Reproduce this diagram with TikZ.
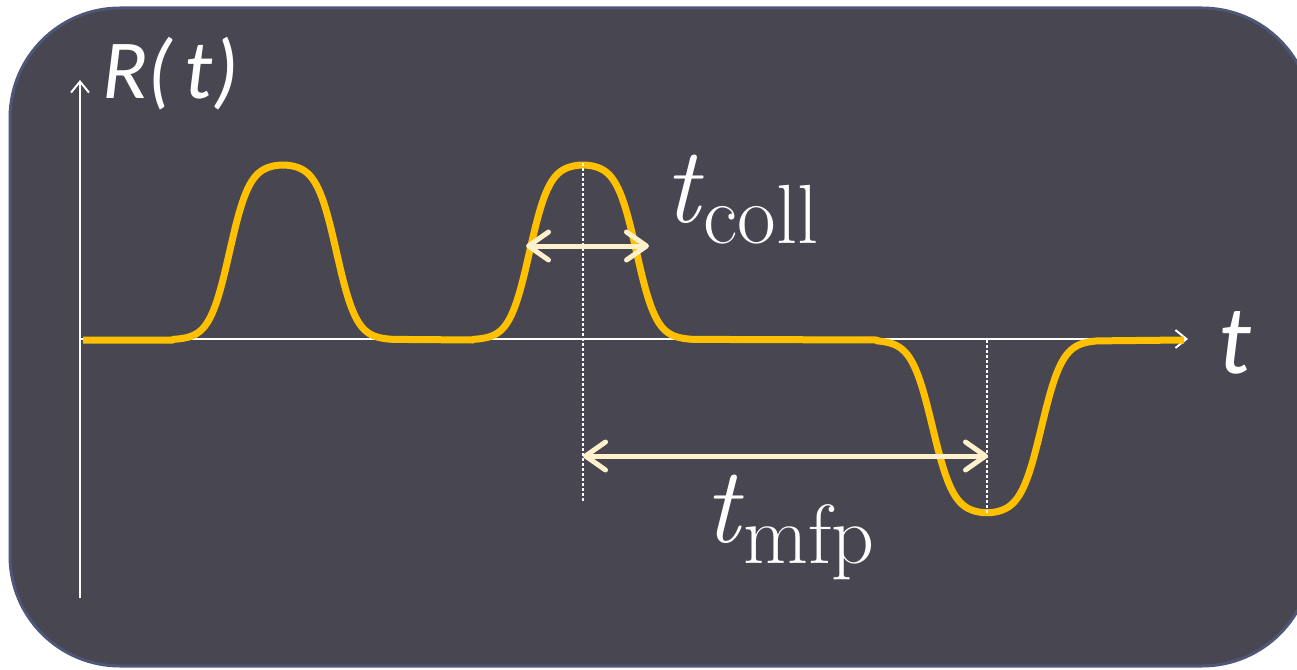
\documentclass[tikz,border=0pt]{standalone}
\usepackage{fontspec}
\setmainfont{Latin Modern Roman}
\newfontfamily\calib{Carlito}
\usetikzlibrary{arrows.meta}
\definecolor{boxfill}{HTML}{474651}
\definecolor{boxedge}{HTML}{4F5778}
\definecolor{curvecol}{HTML}{FFC000}
\definecolor{cream}{HTML}{FFF0CC}
\tikzset{
  axis/.style={draw=white, line width=2pt, -{Straight Barb[length=11pt,width=18pt]}},
  signal/.style={draw=curvecol, line width=7pt, line join=round},
  guide/.style={draw=white, line width=2.2pt, dash pattern=on 2.5pt off 2.5pt},
  span/.style={draw=cream, line width=5pt, {Straight Barb[length=20pt,width=28pt,round]}-{Straight Barb[length=20pt,width=28pt,round]}},
  lbl/.style={inner sep=0pt, text=white}
}
\begin{document}
\begin{tikzpicture}[x=1pt,y=1pt]
\useasboundingbox (0,-669) rectangle (1297,0);
\begin{scope}
\clip (0,-669) rectangle (1297,0);
\draw[fill=boxfill, draw=boxedge, line width=3pt, rounded corners=110pt] (10,-666) rectangle (1312,-8);
\end{scope}
% axes
\coordinate (o) at (80,-339);
\coordinate (ybot) at (80,-598);
\coordinate (ytop) at (80,-80);
\coordinate (xend) at (1188,-339);
\draw[axis] (ybot) -- (ytop);
\draw[axis] (o) -- (xend);
% signal
\draw[signal] (83,-340) -- (173,-340)
  -- plot[domain=173:393, samples=160] (\x, {0-340+176.7/(1+exp((sqrt((\x-283)^2+64)-54)/10))})
  -- (473,-340)
  -- plot[domain=473:693, samples=160] (\x, {0-340+176.7/(1+exp((sqrt((\x-583)^2+64)-54)/10))})
  -- (877,-340)
  -- plot[domain=877:1097, samples=160] (\x, {0-340-174.7/(1+exp((sqrt((\x-987)^2+64)-55)/10.5))})
  -- (1184,-340);
% guides
\coordinate (g1t) at (583,-163);
\coordinate (g1b) at (583,-502);
\coordinate (g2t) at (987,-340);
\coordinate (g2b) at (987,-514);
\draw[guide] (g1t) -- (g1b);
\draw[guide] (g2t) -- (g2b);
% spans
\coordinate (c1) at (526,-246);
\coordinate (c2) at (649,-246);
\coordinate (m1) at (583,-456);
\coordinate (m2) at (988,-456);
\draw[span] (c1) -- (c2);
\draw[span] (m1) -- (m2);
% labels
\node[lbl, anchor=base west, font=\calib\itshape\fontsize{84}{90}\selectfont] (rt) at (102,-98) {R(\kern0.14em t)};
\node[lbl, anchor=base west, font=\calib\itshape\fontsize{98}{100}\selectfont] (tl) at (1218,-373) {t};
\node[lbl, anchor=base west, font=\fontsize{108}{110}\selectfont] (tc) at (664,-222) {\textit{t}\raisebox{-0.2em}{\fontsize{84}{88}\selectfont coll}};
\node[lbl, anchor=base west, font=\fontsize{108}{110}\selectfont] (tm) at (704,-542) {\textit{t}\raisebox{-0.2em}{\fontsize{84}{88}\selectfont mfp}};
\end{tikzpicture}
\end{document}
